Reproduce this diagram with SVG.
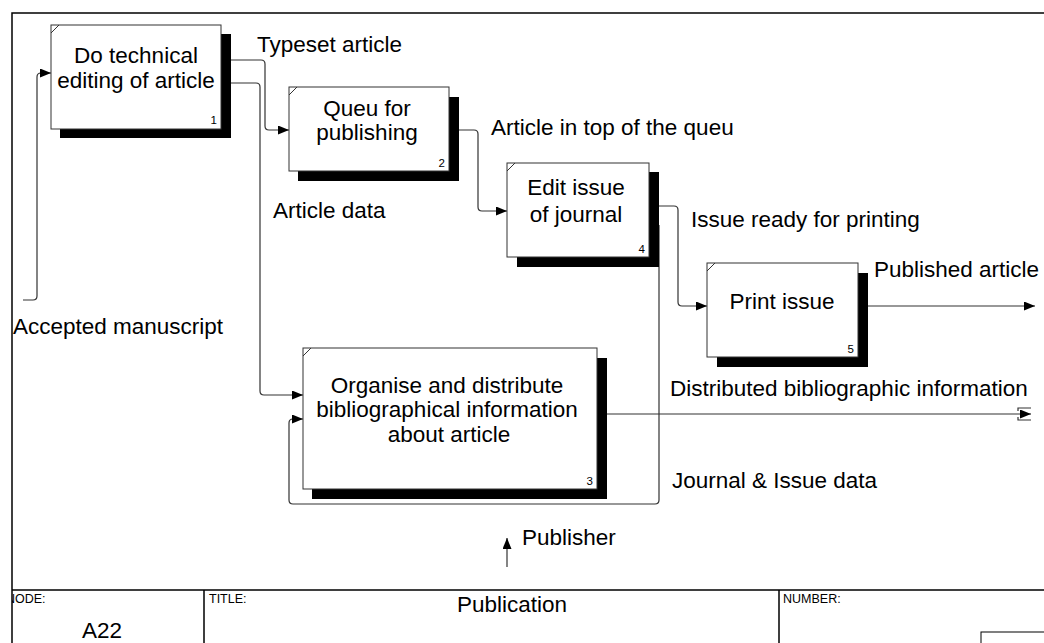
<svg xmlns="http://www.w3.org/2000/svg" width="1044" height="643" viewBox="0 0 1044 643">
<style>
.frame{fill:none;stroke:#000;stroke-width:1.5}
.box{fill:#fff;stroke:#333;stroke-width:1}
.shadow{fill:#000}
.notch{fill:none;stroke:#333;stroke-width:1}
.t{font-family:"Liberation Sans",Arial,sans-serif;font-size:22.5px;fill:#000}
.c{text-anchor:middle}
.num{font-family:"Liberation Sans",Arial,sans-serif;font-size:11.5px;fill:#000;text-anchor:end}
.small{font-family:"Liberation Sans",Arial,sans-serif;font-size:12.5px;fill:#000}
.conn{fill:none;stroke:#333;stroke-width:1.2}
</style>
<defs>
<marker id="arr" viewBox="0 0 11 9" refX="11" refY="4.5" markerWidth="11" markerHeight="9" markerUnits="userSpaceOnUse" orient="auto">
<path d="M0,0 L11,4.5 L0,9 Z" fill="#000"/>
</marker>
<clipPath id="nodeclip"><rect x="12" y="590" width="192" height="53"/></clipPath>
</defs>
<rect width="1044" height="643" fill="#fff"/>
<g id="frame">
<path class="frame" d="M12,643 V13 H1044"/>
<path class="frame" d="M12,590 H1044 M204,590 V643 M779,590 V643"/>
<rect x="981" y="632" width="70" height="20" fill="none" stroke="#000" stroke-width="1"/>
<text class="small" x="6" y="603" clip-path="url(#nodeclip)">NODE:</text>
<text class="small" x="209" y="603">TITLE:</text>
<text class="small" x="783" y="603">NUMBER:</text>
<text class="t c" x="102" y="638">A22</text>
<text class="t c" x="512" y="612">Publication</text>
</g>
<g id="connectors">
<path class="conn" d="M23,300 H33 Q37,300 37,296 V77 Q37,73 41,73 H51" marker-end="url(#arr)"/>
<path class="conn" d="M231,60 H261 Q265,60 265,64 V126 Q265,130 269,130 H289" marker-end="url(#arr)"/>
<path class="conn" d="M231,83 H256 Q260,83 260,87 V391 Q260,395 264,395 H303" marker-end="url(#arr)"/>
<path class="conn" d="M459,130 H474 Q478,130 478,134 V207 Q478,211 482,211 H507" marker-end="url(#arr)"/>
<path class="conn" d="M659,206 H674 Q678,206 678,210 V302 Q678,306 682,306 H707" marker-end="url(#arr)"/>
<path class="conn" d="M868,306 H1035" marker-end="url(#arr)"/>
<path class="conn" d="M607,414 H1031" marker-end="url(#arr)"/>
<path class="conn" d="M1018,411 V408 H1031 M1018,417 V420 H1031"/>
<path class="conn" d="M659,225 V500 Q659,504 655,504 H293 Q289,504 289,500 V423 Q289,419 293,419 H303" marker-end="url(#arr)"/>
<path class="conn" d="M507,567 V538" marker-end="url(#arr)"/>
<text class="t" x="13" y="334">Accepted manuscript</text>
<text class="t" x="257" y="52">Typeset article</text>
<text class="t" x="273" y="218">Article data</text>
<text class="t" x="491" y="135">Article in top of the queu</text>
<text class="t" x="691" y="227">Issue ready for printing</text>
<text class="t" x="874" y="277">Published article</text>
<text class="t" x="670" y="396">Distributed bibliographic information</text>
<text class="t" x="672" y="488">Journal &amp; Issue data</text>
<text class="t" x="522" y="545">Publisher</text>
</g>
<g id="node1">
<rect class="shadow" x="60" y="34" width="171" height="104"/>
<rect class="box" x="51" y="25" width="170" height="104"/>
<path class="notch" d="M51,33 L59,25"/>
<text class="t c" x="136" y="63">Do technical</text>
<text class="t c" x="136" y="88">editing of article</text>
<text class="num" x="217" y="124">1</text>
</g>
<g id="node2">
<rect class="shadow" x="298" y="97" width="161" height="84"/>
<rect class="box" x="289" y="87" width="160" height="84"/>
<path class="notch" d="M289,95 L297,87"/>
<text class="t c" x="367" y="116">Queu for</text>
<text class="t c" x="367" y="140">publishing</text>
<text class="num" x="445" y="167">2</text>
</g>
<g id="node4">
<rect class="shadow" x="517" y="172" width="142" height="95"/>
<rect class="box" x="507" y="163" width="142" height="94"/>
<path class="notch" d="M507,171 L515,163"/>
<text class="t c" x="576" y="195">Edit issue</text>
<text class="t c" x="576" y="222">of journal</text>
<text class="num" x="645" y="253">4</text>
</g>
<g id="node5">
<rect class="shadow" x="717" y="273" width="151" height="94"/>
<rect class="box" x="707" y="263" width="151" height="94"/>
<path class="notch" d="M707,271 L715,263"/>
<text class="t c" x="782" y="309">Print issue</text>
<text class="num" x="854" y="353">5</text>
</g>
<g id="node3">
<rect class="shadow" x="312" y="358" width="295" height="141"/>
<rect class="box" x="303" y="348" width="294" height="141"/>
<path class="notch" d="M303,356 L311,348"/>
<text class="t c" x="447" y="393">Organise and distribute</text>
<text class="t c" x="447" y="417">bibliographical information</text>
<text class="t c" x="449" y="442">about article</text>
<text class="num" x="593" y="485">3</text>
</g>
</svg>
